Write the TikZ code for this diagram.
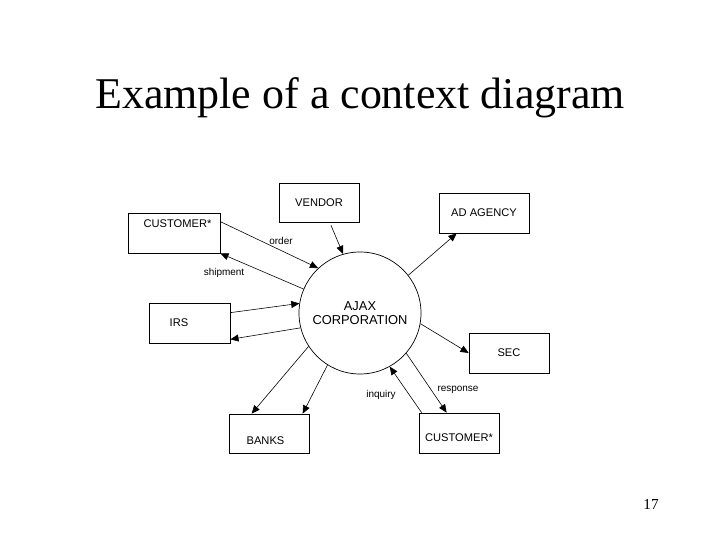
\documentclass[tikz,border=0pt]{standalone}
\usepackage{fontspec}
\setmainfont{Liberation Serif}
\setsansfont{Liberation Sans}
\usetikzlibrary{arrows.meta, calc}

\begin{document}
\begin{tikzpicture}[
        x=0.03cm, y=-0.03cm,
        % Define styles
        box/.style={draw, line width=0.6pt, minimum width=2.4cm, minimum height=1.2cm, inner sep=0pt, font=\sffamily\fontsize{9.5}{10}\selectfont},
        boxtext/.style={font=\sffamily\fontsize{9.5}{10}\selectfont, inner sep=0pt},
        process/.style={draw, circle, line width=0.6pt, minimum size=3.66cm, inner sep=0pt, align=center, font=\sffamily\fontsize{11}{12.5}\selectfont},
        flowlabel/.style={font=\sffamily\fontsize{8.5}{9}\selectfont, inner sep=1pt},
        arrow/.style={-{Triangle[length=7pt, width=6pt]}, line width=0.5pt}
    ]
    \useasboundingbox (0,0) rectangle (720,540);

    % 1. Title and slide number
    \node[font=\fontsize{37.5}{40}\selectfont] (title) at (360,98) {Example of a context diagram};
    \node[font=\fontsize{13}{14}\selectfont] (pagenum) at (651,504) {17};

    % 2. Central process
    \node[process] (ajax) at (360,313) {AJAX\\CORPORATION};

    % 3. External entities
    \node[box, minimum height=1.17cm] (vendor) at (319,202.5) {VENDOR};
    \node[box, minimum width=2.76cm, label={[boxtext, xshift=3pt, yshift=8pt]center:CUSTOMER*}] (cust1) at (174,233) {};
    \node[box, minimum width=2.7cm] (adag) at (484,213) {AD AGENCY};
    \node[box, minimum width=2.43cm, label={[boxtext, xshift=-9pt]center:IRS}] (irs) at (189.5,323) {};
    \node[box] (sec) at (509,353) {SEC};
    \node[box, label={[boxtext, yshift=-4pt]center:CUSTOMER*}] (cust2) at (459,433) {};
    \node[box, minimum height=1.17cm, label={[boxtext, xshift=-3pt, yshift=-6pt]center:BANKS}] (banks) at (269,433.5) {};

    % 4. Data flows
    \draw[arrow] ($(cust1.north east)+(0,9)$) -- (ajax.133);
    \draw[arrow] (ajax.157) -- (cust1.south east);
    \draw[arrow] ($(vendor.south)+(12,3)$) -- (ajax.106);
    \draw[arrow] (ajax.38) -- ($(adag.south west)+(18,0)$);
    \draw[arrow] ($(irs.north east)+(0,10)$) -- (ajax.171);
    \draw[arrow] (ajax.194) -- ($(irs.south east)+(0,-4)$);
    \draw[arrow] (ajax.213) -- ($(banks.north west)+(23,0)$);
    \draw[arrow] (ajax.238) -- ($(banks.north west)+(74,0)$);
    \draw[arrow] ($(cust2.north west)+(3,0)$) -- (ajax.299);
    \draw[arrow] (ajax.319) -- ($(cust2.north west)+(28,0)$);
    \draw[arrow] (ajax.350) -- (sec.west);

    % 5. Flow labels
    \node[flowlabel] (order) at (281,241) {order};
    \node[flowlabel] (shipment) at (224,273) {shipment};
    \node[flowlabel] (inquiry) at (381,395) {inquiry};
    \node[flowlabel] (response) at (458,390) {response};

\end{tikzpicture}
\end{document}
